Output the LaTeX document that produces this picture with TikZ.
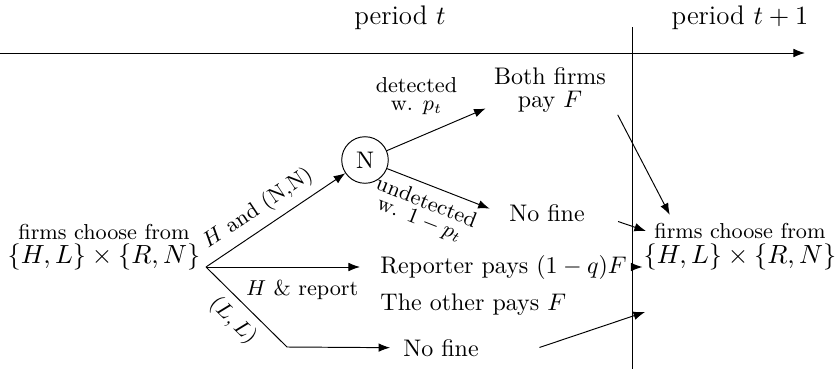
\documentclass[tikz,border=0pt]{standalone}
\usepackage{amsmath}
\usetikzlibrary{positioning,arrows.meta,calc}

\begin{document}
\begin{tikzpicture}[>=Latex,x=0.4167pt,y=-0.4167pt,
  every node/.style={align=center},
  chance/.style={draw,circle,inner sep=3.3pt},
  lbl/.style={font=\small},
  big/.style={font=\fontsize{11.2}{13}\selectfont},
  skip/.style={shorten <=#1}]
  \useasboundingbox (0,0) rectangle (839,369);
  % time line
  \coordinate (tl) at (0,53);
  \coordinate (tr) at (805,53);
  \coordinate (cut top) at (632,27);
  \coordinate (cut bot) at (632,369);
  \draw[->] (tl) -- (tr);
  \draw (cut top) -- (cut bot);
  \node[big] (per t) at (400,18) {period $t$};
  \node[big] (per t1) at (740,18) {period $t+1$};
  % period t
  \node (choose) at (104,232) {\small firms choose from};
  \node[big] (set) at (104,257) {$\{H,L\}\times\{R,N\}$};
  \coordinate (fork) at (206,267);
  \coordinate (kink) at (287,347);
  \node[chance] (nat) at (365,160) {N};
  \node (both) at (550,90) {Both firms\\[-2.5pt] pay $F$};
  \node (fine0) at (547,213) {No fine};
  \node[anchor=west] (rep) at (372,267) {Reporter pays $(1-q)F$};
  \node[anchor=west] (other) at (372,305) {The other pays $F$};
  \node (fine1) at (441,348) {No fine};
  % period t+1
  \node (choose1) at (740,231) {\small firms choose from};
  \node[big] (set1) at (740,257) {$\{H,L\}\times\{R,N\}$};
  \coordinate (in1) at (645,312);
  \path[->]
    (fork) edge node[lbl,sloped,above,pos=0.45]{$H$ and (N,N)} (nat)
    (fork) edge[shorten >=5pt] node[lbl,below=2pt,pos=0.58]{$H$ \& report} (rep)
    (nat) edge node[lbl,above=6pt,pos=0.3]{detected\\[-3.5pt] w. $p_t$} (both.196)
    (nat) edge[shorten >=5pt] node[lbl,sloped,below,pos=0.4]{undetected\\[-3.5pt] w. $1-p_t$} (fine0.west)
    (kink) edge[shorten >=2pt] (fine1);
  \draw (fork) -- node[lbl,sloped,below]{$(L,L)$} (kink);
  \path[->]
    (both.-16) edge[skip=3pt] (choose1.167)
    (fine0.east) edge[skip=11pt] (choose1.west)
    (rep.east) edge[shorten >=-3pt] (set1.west |- rep.east)
    (fine1.south east) edge[skip=23pt] (in1);
\end{tikzpicture}
\end{document}
